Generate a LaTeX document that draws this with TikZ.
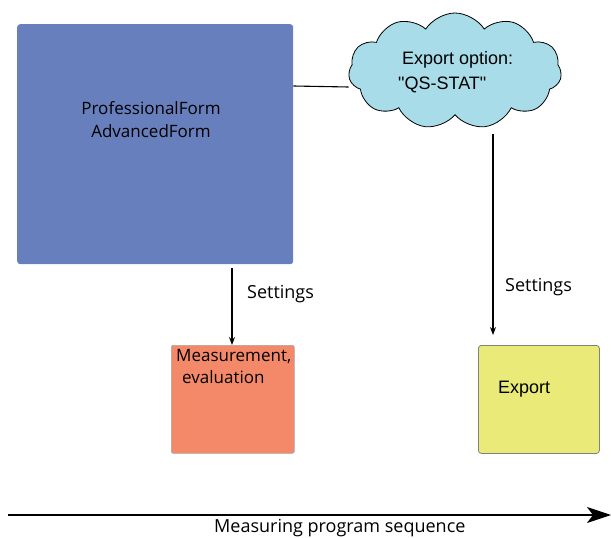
\documentclass[tikz,border=0pt]{standalone}
\usepackage{fontspec}
\setmainfont{Open Sans}
\newfontfamily\arialfont{Liberation Sans}
\usetikzlibrary{shapes.symbols,arrows.meta}
\definecolor{boxblue}{HTML}{687FBD}
\definecolor{cloudcyan}{HTML}{A8DCE8}
\definecolor{boxorange}{HTML}{F4896A}
\definecolor{boxyellow}{HTML}{EAEA78}
\begin{document}
\begin{tikzpicture}[x=1pt,y=-1pt,
  lbl/.style={font=\fontsize{18}{21}\selectfont, inner sep=0pt},
  arr/.style={draw=black, line width=1.1pt, -{Stealth[length=8pt,width=6pt]}},
  conn/.style={draw=black, line width=1.1pt}]
\useasboundingbox (0,0) rectangle (611,538);
% blue box
\node (blue) [fill=boxblue, rounded corners=3pt, minimum width=276pt, minimum height=240pt, inner sep=0pt, anchor=north west] at (17,24) {};
\node (bluetxt) [inner sep=0pt, align=center, font=\fontsize{17}{23}\selectfont] at (151,120) {ProfessionalForm\\AdvancedForm};
% cloud
\node (cloud) [cloud, cloud puffs=11, cloud puff arc=115, aspect=1.8, draw=black, line width=0.8pt, fill=cloudcyan, minimum width=213pt, minimum height=116pt, inner sep=0pt] at (455,71) {};
\node (cloudtxt) [inner sep=0pt, align=left, font=\arialfont\fontsize{18}{25}\selectfont, anchor=north west] at (398,51) {\hspace*{4pt}Export option:\\"QS-STAT"};
% connector blue -> cloud
\draw[conn] (blue.north east |- 0,86) coordinate (c1) -- (cloud.west |- 0,87) coordinate (c2);
% orange box
\node (orange) [fill=boxorange, draw=gray!70, line width=0.6pt, rounded corners=2pt, minimum width=123pt, minimum height=108pt, inner sep=0pt, anchor=north west] at (171,345) {};
\node (orangetxt) [inner sep=0pt, align=left, anchor=north west, font=\fontsize{17}{22}\selectfont] at (176,349) {Measurement,\\\hspace*{6pt}evaluation};
% yellow box
\node (yellow) [fill=boxyellow, draw=gray, line width=0.8pt, rounded corners=3pt, minimum width=121pt, minimum height=108pt, inner sep=0pt, anchor=north west] at (478,345) {};
\node (yellowtxt) [inner sep=0pt, font=\arialfont\fontsize{18}{21}\selectfont, anchor=west] at (498,389) {Export};
% arrows
\coordinate (a1s) at (232,268);
\draw[arr] (a1s) -- (orange.north west -| a1s);
\node (set1) [lbl, anchor=west] at (247,294) {Settings};
\coordinate (a2s) at (493,134);
\coordinate (a2e) at (493,335);
\draw[arr] (a2s) -- (a2e);
\node (set2) [lbl, anchor=west] at (505,287) {Settings};
% timeline
\coordinate (t1) at (8,515);
\coordinate (t2) at (611,515);
\draw[draw=black, line width=1.1pt, -{Stealth[length=24pt,width=16pt,inset=6pt]}] (t1) -- (t2);
\node (seq) [lbl, anchor=base west] at (214,532.5) {Measuring program sequence};
\end{tikzpicture}
\end{document}
